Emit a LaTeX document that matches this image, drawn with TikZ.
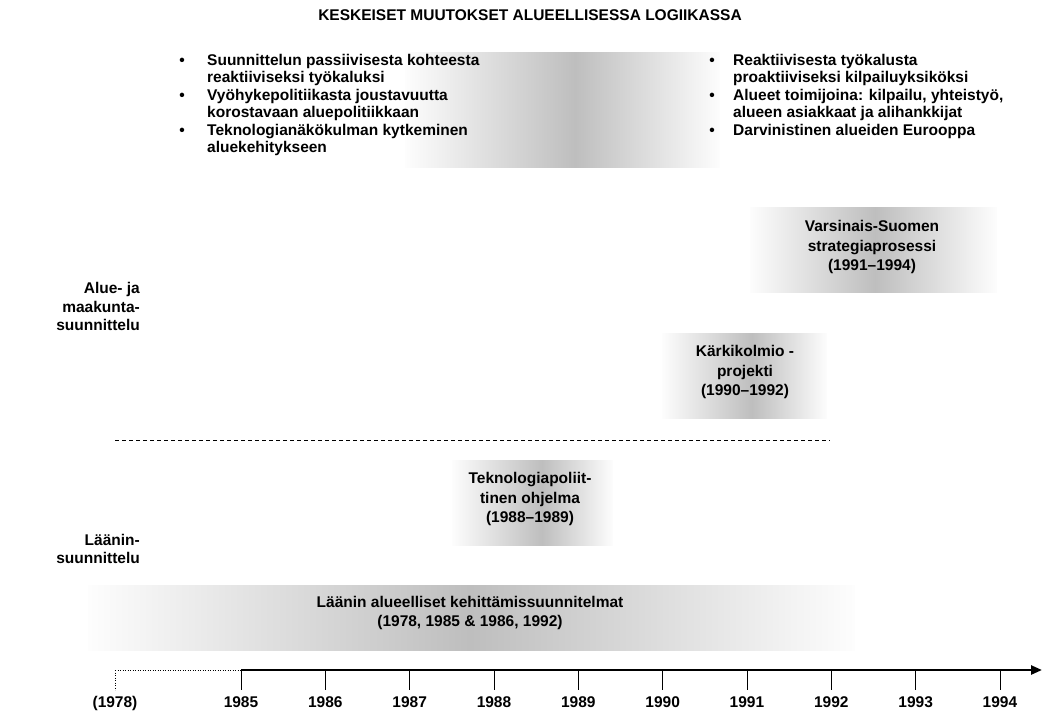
\documentclass[tikz,border=0pt]{standalone}
\usepackage{fontspec}
\setmainfont{Liberation Sans}
\usetikzlibrary{arrows.meta}
\definecolor{shadeg}{RGB}{190,190,190}
\definecolor{edgeg}{RGB}{253,253,253}
\newcommand\gradbox[5]{%
  \shade[left color=edgeg, right color=shadeg] (#1,#4) rectangle (#2,#5);
  \shade[left color=shadeg, right color=edgeg] (#2,#4) rectangle (#3,#5);}
\begin{document}
\begin{tikzpicture}[x=1pt,y=-1pt,
  font=\bfseries\fontsize{15.5}{19.5}\selectfont,
  txt/.style={align=center, inner sep=0pt},
  bul/.style={align=left, inner sep=0pt, anchor=base west, font=\bfseries\fontsize{15.5}{17.5}\selectfont},
  dot/.style={inner sep=0pt, anchor=base},
  lab/.style={align=right, inner sep=0pt, anchor=base east, font=\bfseries\fontsize{15.5}{18}\selectfont},
  yl/.style={inner sep=0pt, anchor=base},
  tickln/.style={line width=0.6pt},
  axisln/.style={line width=2.4pt, -{Triangle[length=11pt,width=9pt]}},
  dotln/.style={line width=0.5pt, dotted},
  sepln/.style={line width=0.6pt, dash pattern=on 4pt off 3pt}]
\useasboundingbox (0,0) rectangle (1046,719);

% gradient backgrounds
\gradbox{405}{575}{720}{53}{168}
\gradbox{750}{875}{997}{208}{292}
\gradbox{662}{752}{827}{333}{418}
\gradbox{452}{542}{613}{460}{545}
\gradbox{88}{470}{855}{585}{650}

% title
\node[txt] (title) at (530,15) {KESKEISET MUUTOKSET ALUEELLISESSA LOGIIKASSA};

% left bullets (base anchor = baseline of last line)
\node[dot] (lb1) at (182,65.5) {•};
\node[bul] (l1) at (207,83) {Suunnittelun passiivisesta kohteesta\\reaktiiviseksi työkaluksi};
\node[dot] (lb2) at (182,100.5) {•};
\node[bul] (l2) at (207,118) {Vyöhykepolitiikasta joustavuutta\\korostavaan aluepolitiikkaan};
\node[dot] (lb3) at (182,135.5) {•};
\node[bul] (l3) at (207,153) {Teknologianäkökulman kytkeminen\\aluekehitykseen};

% right bullets
\node[dot] (rb1) at (712,65.5) {•};
\node[bul] (r1) at (733,83) {Reaktiivisesta työkalusta\\proaktiiviseksi kilpailuyksiköksi};
\node[dot] (rb2) at (712,100.5) {•};
\node[bul] (r2) at (733,118) {Alueet toimijoina: kilpailu, yhteistyö,\\alueen asiakkaat ja alihankkijat};
\node[dot] (rb3) at (712,135.5) {•};
\node[bul] (r3) at (733,135.5) {Darvinistinen alueiden Eurooppa};

% row labels
\node[lab] (alue) at (140,330) {Alue- ja\\maakunta-\\suunnittelu};
\node[lab] (laani) at (140,563.5) {Läänin-\\suunnittelu};

% boxes text
\node[txt] (vs) at (872,247) {Varsinais-Suomen\\strategiaprosessi\\(1991–1994)};
\node[txt] (kk) at (745,372) {Kärkikolmio -\\projekti\\(1990–1992)};
\node[txt] (tp) at (530,499) {Teknologiapoliit-\\tinen ohjelma\\(1988–1989)};
\node[txt] (ls) at (470,613) {Läänin alueelliset kehittämissuunnitelmat\\(1978, 1985 \& 1986, 1992)};

% separator
\coordinate (sepA) at (115,440);
\coordinate (sepB) at (830,440);
\draw[sepln] (sepA) -- (sepB);

% timeline
\coordinate (t1978) at (115,670);
\coordinate (b1978) at (115,690);
\node[yl] (y1978) at (115,707) {(1978)};
\foreach \yr [count=\k from 0] in {1985,...,1994} {
  \coordinate (t\yr) at ({241+84.33*\k},670);
  \coordinate (b\yr) at ({241+84.33*\k},690);
  \draw[tickln] (t\yr) -- (b\yr);
  \node[yl] (y\yr) at ({241+84.33*\k},707) {\yr};
}
\coordinate (axend) at (1042,670);
\draw[dotln] (t1978) -- (t1985);
\draw[dotln] (t1978) -- (b1978);
\draw[axisln] (t1985) -- (axend);
\end{tikzpicture}
\end{document}
